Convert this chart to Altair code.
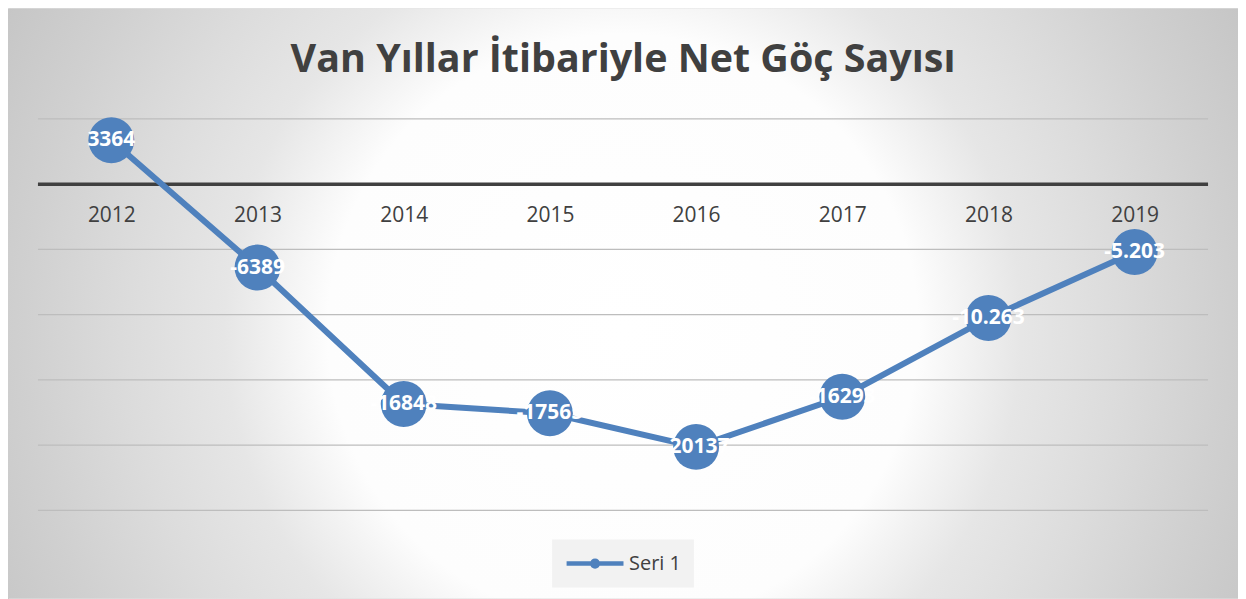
import altair as alt
import pandas as pd

# ---- data ----
years = ["2012", "2013", "2014", "2015", "2016", "2017", "2018", "2019"]
values = [3364, -6389, -16848, -17565, -20137, -16293, -10263, -5203]
labels = ["3364", "-6389", "-16848", "-17565", "-20137", "-16293", "-10.263", "-5.203"]
series_name = "Seri 1"
grid_values = [5000, -5000, -10000, -15000, -20000, -25000]
zero_values = [0]
title_text = "Van Yıllar İtibariyle Net Göç Sayısı"

# ---- layout / style ----
W, H = 1232, 591
BLUE = "#4f81bd"
TXT = "#404040"
FONT = "Open Sans"
y_domain = [-31760, 13469]
grid_x0, grid_x1 = 30, 1202

df = pd.DataFrame({"year": years, "value": values, "label": labels,
                   "series": [series_name] * len(years)})
grid_df = pd.DataFrame({"value": grid_values})
zero_df = pd.DataFrame({"value": zero_values})
one_df = pd.DataFrame({"k": [0]})

x_enc = alt.X(
    "year:O",
    scale=alt.Scale(type="point", padding=0.707),
    axis=alt.Axis(
        title=None, domain=False, ticks=False, grid=False,
        labelFont=FONT, labelFontSize=21, labelColor=TXT,
        labelPadding=20, labelAngle=0, offset=-(H - 176), zindex=1,
    ),
)
y_enc = alt.Y("value:Q", scale=alt.Scale(domain=y_domain, nice=False, zero=False), axis=None)

# circular gradient (Vega wraps it in a square pattern of side max(W, H))
gradient = alt.RadialGradient(
    gradient="radial",
    x1=0.5, y1=0.5215, r1=0, x2=0.5, y2=0.5215, r2=0.6,
    stops=[
        alt.GradientStop(offset=0, color="#ffffff"),
        alt.GradientStop(offset=0.40, color="#fdfdfd"),
        alt.GradientStop(offset=0.46, color="#f3f3f3"),
        alt.GradientStop(offset=0.54, color="#e6e6e6"),
        alt.GradientStop(offset=0.67, color="#dcdcdc"),
        alt.GradientStop(offset=0.81, color="#d0d0d0"),
        alt.GradientStop(offset=0.94, color="#c6c6c6"),
        alt.GradientStop(offset=1, color="#c4c4c4"),
    ],
)

bg = alt.Chart(one_df).mark_rect(fill=gradient, strokeWidth=0).encode(
    x=alt.value(0), x2=alt.value(W), y=alt.value(0), y2=alt.value(H),
)

grid = alt.Chart(grid_df).mark_rule(color="#bdbdbd", strokeWidth=1.3).encode(
    x=alt.value(grid_x0), x2=alt.value(grid_x1), y=y_enc
)
zero = alt.Chart(zero_df).mark_rule(color=TXT, strokeWidth=3.5).encode(
    x=alt.value(grid_x0), x2=alt.value(grid_x1), y=y_enc
)

line = alt.Chart(df).mark_line(color=BLUE, strokeWidth=6).encode(x=x_enc, y=y_enc)

# legend symbol: a line with a small dot (unit = sqrt(size)/2 = 9.5 px)
legend_path = "M-1,0L5,0M2.3,0A0.3,0.3,0,1,1,1.7,0A0.3,0.3,0,1,1,2.3,0Z"
points = alt.Chart(df).mark_point(filled=True, shape="circle", size=2116, opacity=1).encode(
    x=x_enc, y=y_enc,
    color=alt.Color(
        "series:N",
        scale=alt.Scale(range=[BLUE]),
        legend=alt.Legend(
            title=None, orient="none", legendX=545, legendY=532,
            symbolType=legend_path, symbolSize=361,
            symbolStrokeColor=BLUE, symbolFillColor=BLUE, symbolStrokeWidth=4.5,
            symbolOpacity=1,
            labelFont=FONT, labelFontSize=20, labelColor=TXT, labelOffset=41,
            fillColor="#f2f2f2", padding=12,
        ),
    ),
)

text = alt.Chart(df).mark_text(
    font=FONT, fontSize=21, fontWeight="bold", color="white",
    align="center", baseline="middle",
).encode(x=x_enc, y=y_enc, text="label:N")

chart = alt.layer(bg, grid, zero, line, points, text).properties(
    width=W, height=H, padding=0,
    title=alt.TitleParams(
        text=title_text, font=FONT, fontSize=39.5, fontWeight="bold", color=TXT,
        anchor="middle", frame="group", offset=-103, baseline="alphabetic",
    ),
).configure_view(stroke="#c4c4c4", strokeWidth=1)

chart.save("out.html", embed_options={"renderer": "svg", "actions": False})
